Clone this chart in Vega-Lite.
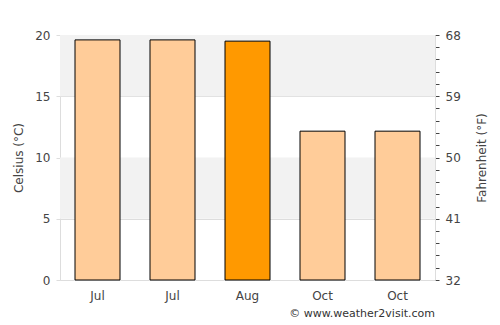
{
  "$schema": "https://vega.github.io/schema/vega-lite/v6.json",
  "width": 375,
  "height": 245,
  "autosize": {"type": "none"},
  "padding": {"left": 60, "top": 35, "right": 65, "bottom": 45},
  "config": {
    "view": {"stroke": null},
    "font": "DejaVu Sans",
    "axis": {"labelFont": "DejaVu Sans", "titleFont": "DejaVu Sans", "labelColor": "#444", "titleColor": "#444", "labelFontSize": 12, "titleFontSize": 12, "titleFontWeight": "normal"}
  },
  "title": {"text": "© www.weather2visit.com", "orient": "bottom", "anchor": "end", "frame": "group", "fontSize": 11, "fontWeight": "normal", "color": "#333", "offset": 7, "font": "DejaVu Sans"},
  "layer": [
    {
      "layer": [
        {
          "data": {"values": [{"lo": 5, "hi": 10}, {"lo": 15, "hi": 20}]},
          "mark": {"type": "rect", "color": "#f2f2f2"},
          "encoding": {
            "y": {"field": "lo", "type": "quantitative", "scale": {"domain": [0, 20]}},
            "y2": {"field": "hi"}
          }
        },
        {
          "data": {"values": [
            {"i": 0, "month": "Jul", "c": 19.6, "hl": "n"},
            {"i": 1, "month": "Jul", "c": 19.6, "hl": "n"},
            {"i": 2, "month": "Aug", "c": 19.5, "hl": "y"},
            {"i": 3, "month": "Oct", "c": 12.15, "hl": "n"},
            {"i": 4, "month": "Oct", "c": 12.15, "hl": "n"}
          ]},
          "mark": {"type": "bar", "stroke": "black", "strokeWidth": 1, "opacity": 1},
          "encoding": {
            "x": {"field": "i", "type": "ordinal", "scale": {"paddingInner": 0.4, "paddingOuter": 0.2},
              "axis": {"title": null, "labelAngle": 0, "ticks": false, "labelPadding": 10, "domainColor": "#ddd",
                "labelExpr": "['Jul','Jul','Aug','Oct','Oct'][datum.value]"}},
            "y": {"field": "c", "type": "quantitative", "scale": {"domain": [0, 20]},
              "axis": {"title": "Celsius (°C)", "values": [0, 5, 10, 15, 20], "gridColor": "#ddd", "domainColor": "#ddd", "tickColor": "#ddd", "tickSize": 4, "labelPadding": 6, "titlePadding": 9}},
            "color": {"field": "hl", "type": "nominal", "scale": {"domain": ["n", "y"], "range": ["#ffcc99", "#ff9900"]}, "legend": null}
          }
        }
      ]
    },
    {
      "data": {"values": [{"f": 32}, {"f": 68}]},
      "mark": {"type": "point", "opacity": 0},
      "encoding": {
        "y": {"field": "f", "type": "quantitative", "scale": {"domain": [32, 68]},
          "axis": {"orient": "right", "title": "Fahrenheit (°F)", "titleAngle": 270, "grid": false, "domainColor": "#ddd", "tickColor": "#444", "tickSize": 4, "labelPadding": 6, "titlePadding": 28,
            "values": [32, 33.8, 35.6, 37.4, 39.2, 41, 42.8, 44.6, 46.4, 48.2, 50, 51.8, 53.6, 55.4, 57.2, 59, 60.8, 62.6, 64.4, 66.2, 68],
            "labelExpr": "indexof([32,41,50,59,68], datum.value) >= 0 ? datum.label : ''"}}
      }
    }
  ],
  "resolve": {"scale": {"y": "independent"}, "axis": {"y": "independent"}}
}
